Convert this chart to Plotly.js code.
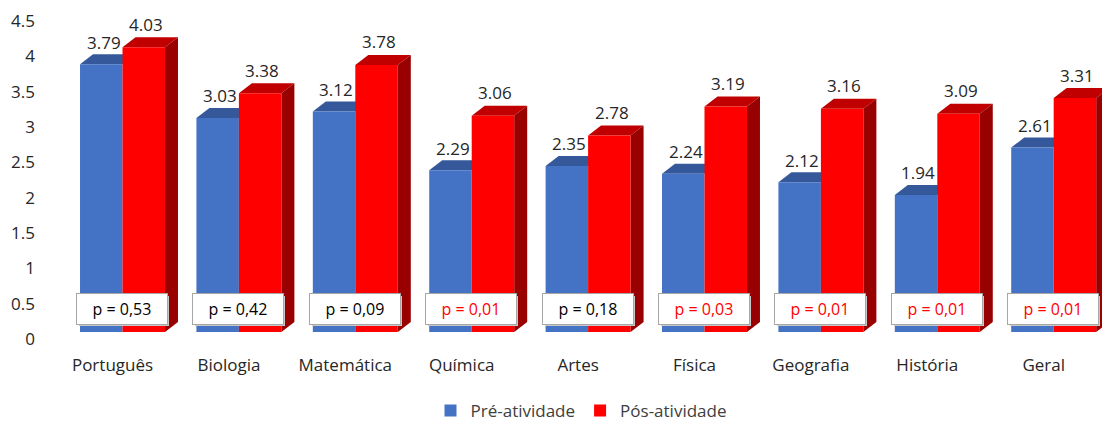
<!DOCTYPE html>
<html><head><meta charset="utf-8">
<script src="https://cdn.plot.ly/plotly-3.0.1.min.js"></script>
<style>html,body{margin:0;padding:0;background:#fff;}</style>
</head><body>
<div id="chart" style="width:1102px;height:421px;"></div>
<script>
const categories = ["Português","Biologia","Matemática","Química","Artes","Física","Geografia","História","Geral"];
const preValues = [3.79,3.03,3.12,2.29,2.35,2.24,2.12,1.94,2.61];
const postValues = [4.03,3.38,3.78,3.06,2.78,3.19,3.16,3.09,3.31];
const pLabels = ["0,53","0,42","0,09","0,01","0,18","0,03","0,01","0,01","0,01"];
const pValues = [0.53,0.42,0.09,0.01,0.18,0.03,0.01,0.01,0.01];
const yTicks = [0,0.5,1,1.5,2,2.5,3,3.5,4,4.5];

const FONT = "'Open Sans', sans-serif";
const bargap = 0.27;
const half = (1 - bargap) / 2;           // width of one bar in category units
const dx = 13 / 116.4, dy = 10 / 70.7;   // 3D depth offsets (pixels -> units)
const xs = categories.map((c,i)=>i);

const traces = [
  {type:'bar', name:'Pré-atividade', x:xs, y:preValues, marker:{color:'#4472C4'}, hoverinfo:'y'},
  {type:'bar', name:'Pós-atividade', x:xs, y:postValues, marker:{color:'#FF0000'}, hoverinfo:'y'}
];

const shapes = [];
const annotations = [];
xs.forEach(i => {
  const bL = i - half, bR = i, rL = i, rR = i + half;
  const b = preValues[i], r = postValues[i];
  shapes.push({type:'path', layer:'below', xref:'x', yref:'y', line:{width:0}, fillcolor:'#34589A',
    path:`M${bL},${b} L${bR},${b} L${bR+dx},${b+dy} L${bL+dx},${b+dy} Z`});
  shapes.push({type:'path', layer:'below', xref:'x', yref:'y', line:{width:0}, fillcolor:'#C00000',
    path:`M${rL},${r} L${rR},${r} L${rR+dx},${r+dy} L${rL+dx},${r+dy} Z`});
  shapes.push({type:'path', layer:'below', xref:'x', yref:'y', line:{width:0}, fillcolor:'#990000',
    path:`M${rR},0 L${rR},${r} L${rR+dx},${r+dy} L${rR+dx},${dy} Z`});
  annotations.push({xref:'x', yref:'y', x:i - half/2 + 0.02, y:b, yshift:22, text:b.toFixed(2), showarrow:false,
    font:{family:FONT, size:17, color:'#262626'}});
  annotations.push({xref:'x', yref:'y', x:i + half/2 + 0.02, y:r, yshift:23, text:r.toFixed(2), showarrow:false,
    font:{family:FONT, size:17, color:'#262626'}});
  annotations.push({xref:'x', yref:'y', x:i - 0.005, y:0.325, xshift:2, yshift:-2, text:' ', showarrow:false,
    width:90, height:30, bgcolor:'#C8C8C8', borderpad:0, borderwidth:0});
  annotations.push({xref:'x', yref:'y', x:i - 0.005, y:0.325, text:'p = ' + pLabels[i], showarrow:false,
    width:88, height:28, bgcolor:'#FFFFFF', bordercolor:'#A6A6A6', borderwidth:1, borderpad:1,
    font:{family:FONT, size:16, color: pValues[i] < 0.05 ? '#FF0000' : '#000000'}});
});

const layout = {
  width:1102, height:421,
  margin:{l:60, r:0, t:14, b:89, autoexpand:false},
  paper_bgcolor:'#FFFFFF', plot_bgcolor:'#FFFFFF',
  barmode:'group', bargap:bargap, bargroupgap:0,
  showlegend:true,
  legend:{orientation:'h', x:0.5, xanchor:'center', y:-0.248, yanchor:'middle',
    font:{family:FONT, size:17, color:'#404040'}, traceorder:'normal', itemwidth:30},
  xaxis:{range:[-0.537, 8.415], tickvals:xs, ticktext:categories, showgrid:false, zeroline:false,
    showline:false, ticks:'', ticklabelstandoff:21, ticklabelshift:-10, automargin:false,
    tickfont:{family:FONT, size:17, color:'#262626'}, fixedrange:true},
  yaxis:{range:[0,4.5], tickvals:yTicks, ticktext:yTicks.map(String), showgrid:false, zeroline:false,
    showline:false, ticks:'', ticklabelshift:7, ticklabelstandoff:24, automargin:false,
    tickfont:{family:FONT, size:17, color:'#262626'}, fixedrange:true},
  shapes:shapes,
  annotations:annotations
};

Plotly.newPlot('chart', traces, layout, {displayModeBar:false, staticPlot:true});
</script>
</body></html>
